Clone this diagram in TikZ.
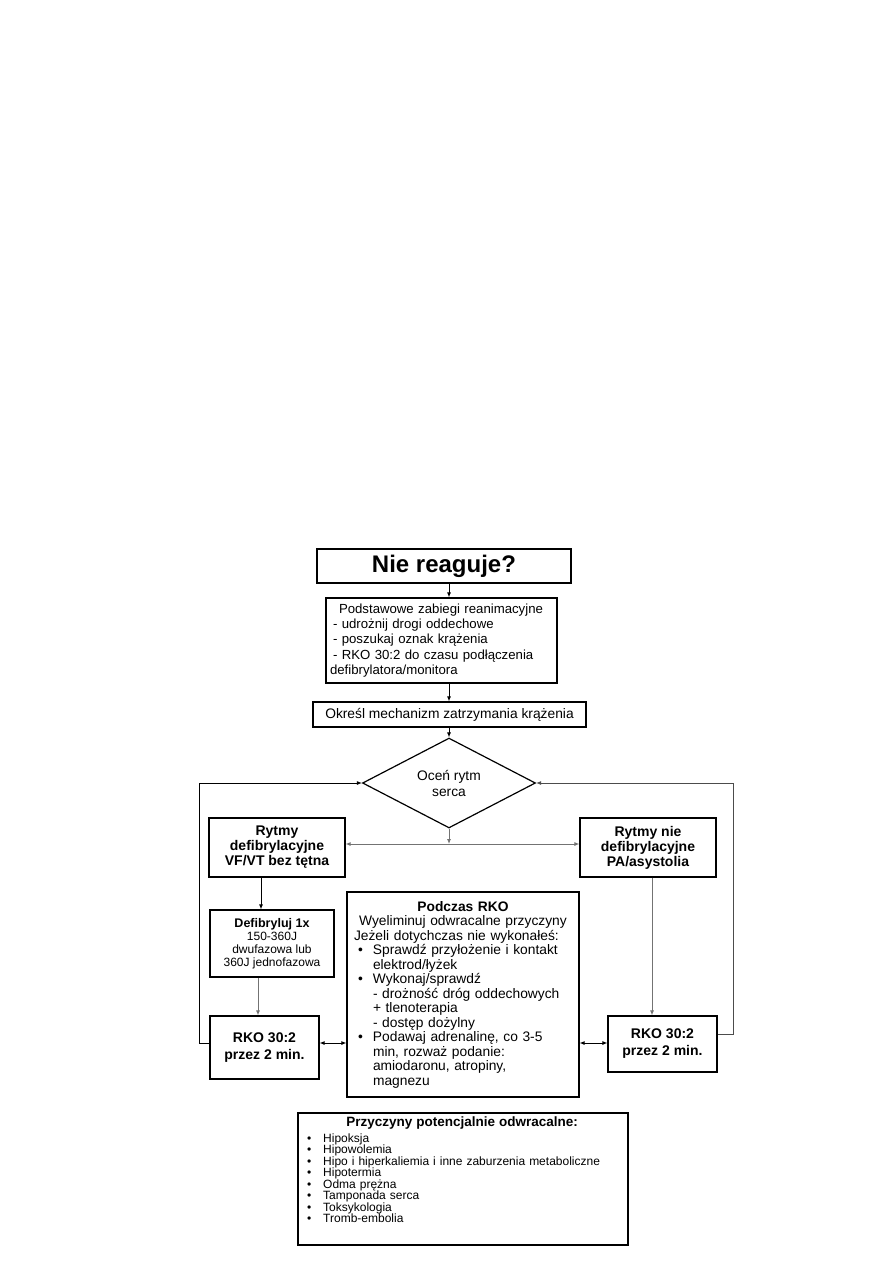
\documentclass[tikz,border=0pt]{standalone}
\usepackage{fontspec}
\setmainfont{Liberation Sans}
\usetikzlibrary{shapes.geometric,arrows.meta}
\newcommand{\bulit}{\makebox[19pt][l]{\hspace{4pt}\textbullet}}
\newcommand{\indt}{\hspace*{19pt}}
\newcommand{\lbul}{\makebox[21pt][l]{\hspace{5pt}\textbullet}}
\begin{document}
\begin{tikzpicture}[x=1pt,y=-1pt,
  box/.style={draw, line width=1.2pt, inner sep=0pt, align=center},
  reg/.style={font=\fontsize{13.8}{15.2}\selectfont},
  bld/.style={font=\fontsize{14}{15}\bfseries\selectfont},
  conn/.style={line width=0.9pt},
  tip/.tip={Latex[length=5pt,width=4pt]},
  arr/.style={conn,-tip},
  darr/.style={conn,tip-tip},
  gray conn/.style={draw=black!55}]
\useasboundingbox[fill=white] (0,0) rectangle (893,1263);

% nodes
\node[box, minimum width=254pt, minimum height=34pt,
      font=\fontsize{24}{28}\bfseries\selectfont] (nie) at (444,566) {Nie reaguje?};
\node[box, font=\fontsize{13.2}{15.2}\selectfont, minimum width=231pt, minimum height=85pt,
      text width=217pt, align=left]
  (podst) at (441.5,640.5)
  {\hspace*{6pt}Podstawowe zabiegi reanimacyjne\\- udrożnij drogi oddechowe\\- poszukaj oznak krążenia\\- RKO 30:2 do czasu podłączenia\\\hspace*{-3pt}defibrylatora/monitora};
\node[box, reg, minimum width=273pt, minimum height=25pt] (okresl) at (449.5,714.5)
  {Określ mechanizm zatrzymania krążenia};
\node[draw, line width=1.2pt, shape=diamond, inner sep=0pt, minimum width=173pt,
      minimum height=67pt, align=center, font=\fontsize{13.8}{16}\selectfont]
  (dia) at (449,783) {Oceń rytm\\serca};
\node[box, bld, minimum width=136pt, minimum height=59pt] (lbox) at (277,847.5)
  {Rytmy\\defibrylacyjne\\VF/VT bez tętna};
\node[box, bld, minimum width=136pt, minimum height=59pt] (rbox) at (648,847.5)
  {Rytmy nie\\defibrylacyjne\\PA/asystolia};
\node[box, minimum width=124pt, minimum height=67pt, font=\fontsize{12}{13}\selectfont]
  (defib) at (272,943.5)
  {{\fontsize{12.5}{13}\bfseries\selectfont Defibryluj 1x}\\150-360J\\dwufazowa lub\\360J jednofazowa};
\node[box, font=\fontsize{14}{17}\bfseries\selectfont, minimum width=109pt, minimum height=63pt]
  (rkoL) at (264.5,1047.5) {RKO 30:2\\przez 2 min.};
\node[box, font=\fontsize{14}{17}\bfseries\selectfont, minimum width=109pt, minimum height=56pt]
  (rkoR) at (662.5,1044) {RKO 30:2\\przez 2 min.};
\node[box, font=\fontsize{13.8}{14.5}\selectfont, minimum width=232pt, minimum height=205pt,
      text width=218pt, align=left] (podczas) at (463,994.5)
  {\makebox[\linewidth][c]{\bfseries Podczas RKO}\\
   \makebox[\linewidth][c]{Wyeliminuj odwracalne przyczyny}\\
   Jeżeli dotychczas nie wykonałeś:\\
   \bulit Sprawdź przyłożenie i kontakt\\
   \indt elektrod/łyżek\\
   \bulit Wykonaj/sprawdź\\
   \indt - drożność dróg oddechowych\\
   \indt + tlenoterapia\\
   \indt - dostęp dożylny\\
   \bulit Podawaj adrenalinę, co 3-5\\
   \indt min, rozważ podanie:\\
   \indt amiodaronu, atropiny,\\
   \indt magnezu};
\node[box, minimum width=330pt, minimum height=132pt] (pp) at (463,1179) {};
\node[anchor=north west, inner sep=0pt, text width=320pt, align=left,
      font=\fontsize{12}{11.5}\selectfont] (pptext) at (302,1117)
  {\makebox[\linewidth][c]{\fontsize{13.5}{14}\bfseries\selectfont Przyczyny potencjalnie odwracalne:}\\[4pt]
   \lbul Hipoksja\\
   \lbul Hipowolemia\\
   \lbul Hipo i hiperkaliemia i inne zaburzenia metaboliczne\\
   \lbul Hipotermia\\
   \lbul Odma prężna\\
   \lbul Tamponada serca\\
   \lbul Toksykologia\\
   \lbul Tromb-embolia};

% helper coordinates
\coordinate (j) at (449,844);
\coordinate (cl) at (261,0);
\coordinate (cl2) at (258,0);
\coordinate (cr) at (652,0);
\coordinate (ya) at (0,1043);
\coordinate (yb) at (0,1034);
\coordinate (lx) at (199,783);
\coordinate (rx) at (733,783);

% connectors
\draw[arr] (nie.south -| dia.north) -- (podst.north -| dia.north);
\draw[arr] (podst.south -| dia.north) -- (okresl.north -| dia.north);
\draw[arr] (okresl.south -| dia.north) -- (dia.north);
\draw[arr, gray conn] (dia.south) -- (j);
\draw[darr, gray conn] (lbox.east |- j) -- (rbox.west |- j);
\draw[arr] (lbox.south -| cl) -- (defib.north -| cl);
\draw[arr, gray conn] (defib.south -| cl2) -- (rkoL.north -| cl2);
\draw[arr, gray conn] (rbox.south -| cr) -- (rkoR.north -| cr);
\draw[darr] (rkoL.east |- ya) -- (podczas.west |- ya);
\draw[darr] (podczas.east |- ya) -- (rkoR.west |- ya);
\draw[arr] (rkoL.west |- ya) -| (lx) -- (dia.west);
\draw[arr, draw=black!70] (rkoR.east |- yb) -| (rx) -- (dia.east);
\end{tikzpicture}
\end{document}
